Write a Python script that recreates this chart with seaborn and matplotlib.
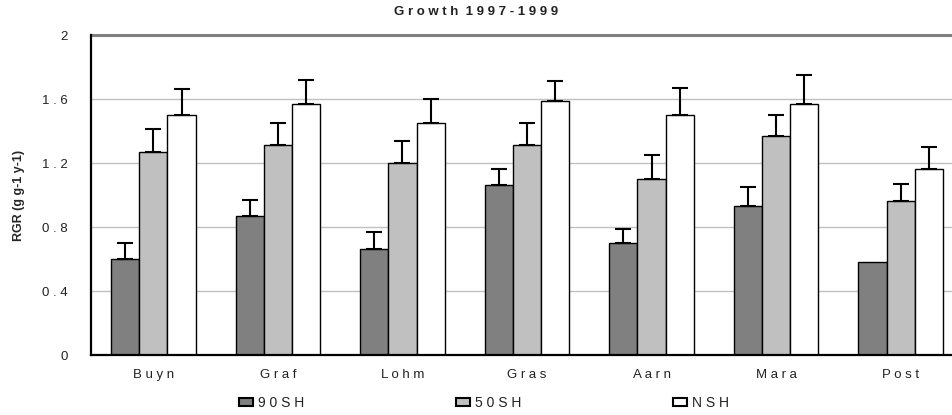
import matplotlib
matplotlib.use('Agg')
import matplotlib.pyplot as plt
import seaborn as sns
import pandas as pd
import numpy as np

# data
sites = ['Buyn', 'Graf', 'Lohm', 'Gras', 'Aarn', 'Mara', 'Post']
site_labels = ['B u y n', 'G r a f', 'L o h m', 'G r a s', 'A a r n', 'M a r a', 'P o s t']
treatments = ['90SH', '50SH', 'NSH']
treatment_labels = ['9 0 S H', '5 0 S H', 'N S H']

rgr_90sh = [0.60, 0.87, 0.66, 1.06, 0.70, 0.93, 0.58]
rgr_50sh = [1.27, 1.31, 1.20, 1.31, 1.10, 1.37, 0.96]
rgr_nsh = [1.50, 1.57, 1.45, 1.59, 1.50, 1.57, 1.16]

err_90sh = [0.10, 0.10, 0.11, 0.10, 0.09, 0.12, 0.00]
err_50sh = [0.14, 0.14, 0.14, 0.14, 0.15, 0.13, 0.11]
err_nsh = [0.16, 0.15, 0.15, 0.12, 0.17, 0.18, 0.14]

yticks = [0, 0.4, 0.8, 1.2, 1.6, 2]
ytick_labels = ['0', '0 . 4', '0 . 8', '1 . 2', '1 . 6', '2']

colors = ['#808080', '#c0c0c0', '#ffffff']

df = pd.DataFrame({
    'site': sites * 3,
    'treatment': [t for t in treatments for _ in sites],
    'rgr': rgr_90sh + rgr_50sh + rgr_nsh,
})
errs = [err_90sh, err_50sh, err_nsh]

sns.set_style('white')
plt.rcParams['font.family'] = ['Liberation Sans', 'DejaVu Sans']

fig = plt.figure(figsize=(9.53, 4.15), dpi=100)
ax = fig.add_axes([91 / 953, 1 - 355 / 415, 872 / 953, 320 / 415])

sns.barplot(data=df, x='site', y='rgr', hue='treatment', order=sites,
            hue_order=treatments, palette=colors, width=0.68, gap=0,
            edgecolor='black', linewidth=1, saturation=1, legend=False,
            errorbar=None, ax=ax, zorder=3)

# upward-only error bars on top of each bar
for cont, e in zip(ax.containers, errs):
    xs = [b.get_x() + b.get_width() / 2 for b in cont]
    hs = [b.get_height() for b in cont]
    e = np.array(e)
    mask = e > 0
    ax.errorbar(np.array(xs)[mask], np.array(hs)[mask],
                yerr=[np.zeros(mask.sum()), e[mask]], fmt='none',
                ecolor='black', elinewidth=1.5, capsize=5.5, capthick=1.5,
                zorder=4)

ax.set_xlim(-0.5, 6.5)
ax.set_ylim(0, 2)
ax.set_yticks(yticks)
ax.set_yticklabels(ytick_labels, fontsize=9.5, color='#222222')
ax.set_xticks(range(len(sites)))
ax.set_xticklabels(site_labels, fontsize=9.5, color='#222222')
ax.set_xticks(np.arange(-0.5, 6.6, 1), minor=True)
ax.tick_params(axis='x', which='major', length=0, pad=10)
ax.tick_params(axis='x', which='minor', length=4, width=1.5, color='black', direction='out')
ax.tick_params(axis='y', length=6, width=1.5, color='black', direction='out', pad=11)
ax.set_xlabel('')
ax.set_ylabel('RGR (g g-1 y-1)', fontsize=9, fontweight='bold', labelpad=12)

for y in yticks[1:-1]:
    ax.axhline(y, color='#c0c0c0', lw=1, zorder=1)
ax.axhline(2, color='#808080', lw=2.2, zorder=1, clip_on=False)

for s in ['top', 'right']:
    ax.spines[s].set_visible(False)
for s in ['left', 'bottom']:
    ax.spines[s].set_color('black')
    ax.spines[s].set_linewidth(1.6)
    ax.spines[s].set_zorder(5)

fig.text(0.5, 1 - 12 / 415, 'G r o w t h  1 9 9 7 - 1 9 9 9', ha='center',
         va='center', fontsize=9.5, fontweight='bold', color='#222222')

handles = [plt.Rectangle((0, 0), 1, 1, facecolor=c, edgecolor='black', lw=1.5)
           for c in colors]
fig.legend(handles, treatment_labels, loc='center', ncol=3,
           bbox_to_anchor=(0.508, 1 - 403 / 415), frameon=False, fontsize=10,
           handlelength=1.0, handleheight=0.55, handletextpad=0.4,
           columnspacing=10.9, labelcolor='#222222')

fig.savefig('out.png', dpi=100)
